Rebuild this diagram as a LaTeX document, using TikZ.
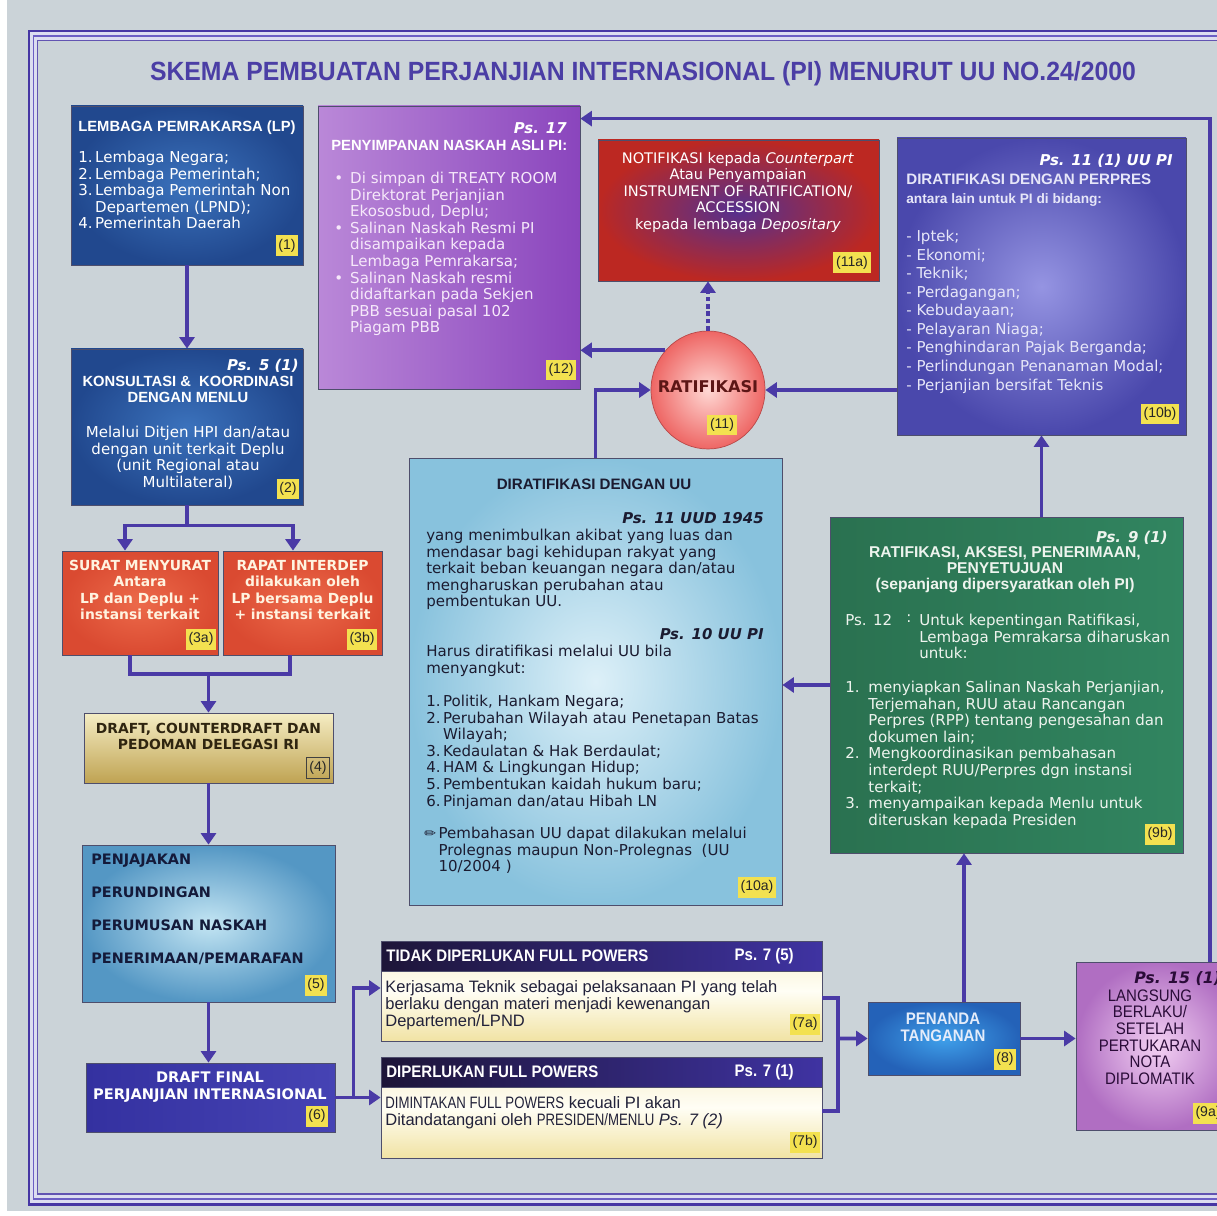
\documentclass[tikz,border=0pt]{standalone}
\usepackage{fontspec}
\setmainfont{DejaVu Sans}
\newfontfamily\hfont{Liberation Sans}
\newfontfamily\nfont[FakeStretch=0.9]{Liberation Sans}
\newfontfamily\ncfont[FakeStretch=0.8]{Liberation Sans}
\newfontfamily\tfont[FakeStretch=0.94]{Liberation Sans}
\usetikzlibrary{arrows.meta,fit,shapes.geometric,calc}

% paper, frame and connector colours
\definecolor{paper}{HTML}{CBD3D8}
\definecolor{frameA}{HTML}{4636A4}
\definecolor{frameB}{HTML}{6C5EC4}
\definecolor{frameGap}{HTML}{DCDDF0}
\definecolor{linkC}{HTML}{4A3AA6}
\definecolor{titleC}{HTML}{4B3EA5}
\definecolor{labY}{HTML}{F3E150}
\definecolor{boxEdge}{HTML}{4E4E6C}
% box fills
\definecolor{blueIn}{HTML}{3B72BC}
\definecolor{blueOut}{HTML}{21488E}
\definecolor{redIn}{HTML}{EC6A4A}
\definecolor{redOut}{HTML}{DA4A31}
\definecolor{goldT}{HTML}{F5EDC4}
\definecolor{goldB}{HTML}{BFA352}
\definecolor{skyFiveIn}{HTML}{C3E5F3}
\definecolor{skyFiveOut}{HTML}{5497C4}
\definecolor{indigoL}{HTML}{3431A0}
\definecolor{indigoR}{HTML}{4643B4}
\definecolor{hdrL}{HTML}{1D1538}
\definecolor{hdrR}{HTML}{3F33A2}
\definecolor{creamT}{HTML}{F6EDC8}
\definecolor{creamM}{HTML}{FFFEF5}
\definecolor{creamB}{HTML}{F1E3A4}
\definecolor{signIn}{HTML}{3FA0EA}
\definecolor{signOut}{HTML}{2462B8}
\definecolor{pinkIn}{HTML}{F3D0F3}
\definecolor{pinkOut}{HTML}{B06EC2}
\definecolor{greenL}{HTML}{2A7150}
\definecolor{greenR}{HTML}{318560}
\definecolor{skyTenIn}{HTML}{DDF0F8}
\definecolor{skyTenOut}{HTML}{88C2DD}
\definecolor{vioIn}{HTML}{9594E2}
\definecolor{vioOut}{HTML}{4A48AC}
\definecolor{circIn}{HTML}{FFD8D4}
\definecolor{circOut}{HTML}{EE6664}
\definecolor{circEdge}{HTML}{B84848}
\definecolor{notifIn}{HTML}{55308F}
\definecolor{notifOut}{HTML}{BC2822}
\definecolor{lavL}{HTML}{BA88D8}
\definecolor{purR}{HTML}{8A45BD}
% text colours
\definecolor{ltPurple}{HTML}{F6E8FA}
\definecolor{ltViolet}{HTML}{E6E6F8}
\definecolor{ltGreen}{HTML}{EEF4EE}
\definecolor{ltBlue}{HTML}{E4ECFA}
\definecolor{ltCream}{HTML}{FFF3E0}
\definecolor{dkNavy}{HTML}{1B1B30}
\definecolor{dkFive}{HTML}{141A3A}
\definecolor{dkBrown}{HTML}{2F2510}
\definecolor{dkPlum}{HTML}{2A0C38}
\definecolor{dkRed}{HTML}{5C1616}
\definecolor{dkInk}{HTML}{22223A}

\newcommand\txtBody{\fontsize{8.55}{9.4}\selectfont}
\newcommand\txtHead{\hfont\bfseries\fontsize{8.4}{9.1}\selectfont}
\newcommand\txtPs{\bfseries\itshape\fontsize{8.5}{9.6}\selectfont}
\newcommand\txtCaps{\bfseries\fontsize{7.9}{9.3}\selectfont}
\newcommand\txtPlain{\hfont\fontsize{9.4}{9.6}\selectfont}
\newcommand\txtNarrowB{\nfont\bfseries\fontsize{9.5}{9.6}\selectfont}
% capital runs inside the plain Arial-like lines are set narrower
\newcommand\upc[1]{{\ncfont #1}}

\begin{document}
\begin{tikzpicture}[x=0.02cm,y=-0.02cm,
  box/.style={inner sep=0pt, draw=boxEdge, line width=0.45pt},
  link/.style={draw=linkC, line width=2.1pt},
  arr/.style={link, -{Triangle[width=8.5pt,length=6.5pt]}},
  lab/.style={fill=labY, inner sep=1.5pt, minimum height=0.42cm, text=black!85,
              font=\hfont\fontsize{8}{8}\selectfont},
  tx/.style={inner sep=0pt, anchor=north west, align=left},
  txc/.style={inner sep=0pt, anchor=north, align=center}]

\useasboundingbox (0,0) rectangle (1217,1216);
\clip (0,0) rectangle (1217,1216);
\fill[white] (0,0) rectangle (1217,1216);
\fill[paper] (7,0) rectangle (1217,1211);

% triple border
\fill[frameGap, even odd rule] (29,31) rectangle (1260,1204) (37.5,40.5) rectangle (1260,1194);
\draw[frameA, line width=1.7pt] (29,31) rectangle (1260,1204);
\draw[frameB, line width=0.8pt] (33.5,36) rectangle (1260,1199);
\draw[frameA!85, line width=1pt] (37.5,40.5) rectangle (1260,1194);

\node[inner sep=0, text=titleC, font=\tfont\bfseries\fontsize{15}{18}\selectfont] (title) at (643,74)
  {SKEMA PEMBUATAN PERJANJIAN INTERNASIONAL (PI) MENURUT UU NO.24/2000};

% ---------- boxes ----------
\node[box, fit={(71,106) (303,265)}, inner color=blueIn, outer color=blueOut] (n1) {};
\node[box, fit={(71,349) (303,505)}, inner color=blueIn, outer color=blueOut] (n2) {};
\node[box, fit={(62,551) (218,655)}, inner color=redIn, outer color=redOut] (n3a) {};
\node[box, fit={(223,551) (382,655)}, inner color=redIn, outer color=redOut] (n3b) {};
\node[box, fit={(84,713) (333,783)}, top color=goldT, bottom color=goldB] (n4) {};
\node[box, fit={(82,845) (335,1002)}, inner color=skyFiveIn, outer color=skyFiveOut] (n5) {};
\node[box, fit={(86,1063) (335,1132)}, left color=indigoL, right color=indigoR] (n6) {};
\node[box, fit={(381,941) (822,1041)}, top color=creamT, bottom color=creamB, middle color=creamM] (n7a) {};
\node[box, fit={(381,941) (822,971)}, left color=hdrL, right color=hdrR] (h7a) {};
\node[box, fit={(381,1057) (822,1158)}, top color=creamT, bottom color=creamB, middle color=creamM] (n7b) {};
\node[box, fit={(381,1057) (822,1087)}, left color=hdrL, right color=hdrR] (h7b) {};
\node[box, fit={(868,1002) (1020,1075)}, inner color=signIn, outer color=signOut] (n8) {};
\node[box, fit={(1076,962) (1240,1130)}, inner color=pinkIn, outer color=pinkOut] (n9a) {};
\node[box, fit={(830,517) (1183,853)}, left color=greenL, right color=greenR] (n9b) {};
\node[box, fit={(409,458) (782,905)}, inner color=skyTenIn, outer color=skyTenOut] (n10a) {};
\node[box, fit={(897,138) (1186,435)}, inner color=vioIn, outer color=vioOut] (n10b) {};
\node[box, fit={(598,140) (879,281)}, inner color=notifIn, outer color=notifOut] (n11a) {};
\node[box, fit={(318,106) (580,389)}, left color=lavL, right color=purR] (n12) {};
\node[ellipse, minimum width=2.28cm, minimum height=2.36cm, inner sep=0, draw=circEdge,
      line width=0.4pt, inner color=circIn, outer color=circOut] (n11) at (708,390) {};

% ---------- connectors ----------
\draw[arr] (n1.south) -- (n2.north);
\draw[link] (n2.south) -- ++(0,20) coordinate (sp2);
\draw[arr] (sp2) -| ([xshift=-0.3cm]n3a.north);
\draw[arr] (sp2) -| ([xshift=-0.19cm]n3b.north);
\coordinate (m34) at (208.5,674);
\draw[link] ([xshift=-0.2cm]n3a.south) |- (m34) -| ([xshift=-0.25cm]n3b.south);
\draw[arr] (m34) -- (n4.north);
\draw[arr] (n4.south) -- (n5.north);
\draw[arr] (n5.south) -- (n5.south |- n6.north);
\coordinate (s6) at ($(n6.east)+(18,0)$);
\draw[link] (n6.east) -- (s6);
\draw[arr] (s6) -- (n6.east -| n7b.west);
\draw[arr] (s6) |- ([yshift=0.06cm]n7a.west);
\coordinate (j8) at (838,1038.5);
\draw[link] ([yshift=-0.14cm]n7a.east) -| (j8);
\draw[link] ([yshift=-0.07cm]n7b.east) -| (j8);
\draw[arr] (j8) -- (n8.west);
\draw[arr] (n8.east) -- (n8.east -| n9a.west);
\draw[arr] ([xshift=0.4cm]n8.north) -- ([xshift=0.4cm]n8.north |- n9b.south);
\draw[arr] (n10b.south |- n9b.north) -- (n10b.south);
\draw[arr] (n9b.west) -- (n9b.west -| n10a.east);
\draw[arr] (n10a.north) |- (n11.west);
\draw[arr] (n11.east -| n10b.west) -- (n11.east);
\draw[arr] (n11.137) -- (n11.137 -| n12.east);
\draw[arr, dash pattern=on 2.6pt off 1.6pt] (n11.north) -- (n11.north |- n11a.south);
\draw[arr] ([xshift=1.04cm]n9a.north) |- ([yshift=-0.26cm]n12.north east);

% ---------- texts ----------
% (1)
\node[tx, text=white, font=\txtHead] (t1h) at (78,120) {LEMBAGA PEMRAKARSA (LP)};
\node[tx, text=white, font=\txtBody] (t1b) at (78,151) {\begin{tabular}{@{}l@{\,}l@{}}
  1. & Lembaga Negara;\\ 2. & Lembaga Pemerintah;\\ 3. & Lembaga Pemerintah Non\\
     & Departemen (LPND);\\ 4. & Pemerintah Daerah\end{tabular}};
% (2)
\node[tx, anchor=north east, text=white, font=\txtPs] (t2p) at (299,359) {Ps. 5 (1)};
\node[txc, text=white, font=\txtHead] (t2h) at (188,376) {KONSULTASI \&\ \ KOORDINASI\\DENGAN MENLU};
\node[txc, text=white, font=\txtBody] (t2b) at (188,426) {Melalui Ditjen HPI dan/atau\\dengan unit terkait Deplu\\(unit Regional atau\\Multilateral)};
% (3a), (3b)
\node[txc, text=ltCream, font=\txtCaps] (t3a) at (140,560) {SURAT MENYURAT\\Antara\\LP dan Deplu +\\instansi terkait};
\node[txc, text=ltCream, font=\txtCaps] (t3b) at (302.5,560) {RAPAT INTERDEP\\dilakukan oleh\\LP bersama Deplu\\+ instansi terkait};
% (4)
\node[txc, text=dkBrown, font=\txtCaps] (t4) at (208.5,723) {DRAFT, COUNTERDRAFT DAN\\PEDOMAN DELEGASI RI};
% (5)
\node[tx, text=dkFive, font=\bfseries\fontsize{8.2}{18.7}\selectfont] (t5) at (91,854)
  {PENJAJAKAN\\PERUNDINGAN\\PERUMUSAN NASKAH\\PENERIMAAN/PEMARAFAN};
% (6)
\node[txc, text=white, font=\bfseries\fontsize{8.3}{9.6}\selectfont] (t6) at (210,1072) {DRAFT FINAL\\PERJANJIAN INTERNASIONAL};
% (7a), (7b)
\node[inner sep=0, anchor=west, text=white, font=\txtNarrowB] (t7ah) at (386,956) {TIDAK DIPERLUKAN FULL POWERS};
\node[inner sep=0, anchor=east, text=white, font=\txtNarrowB] (t7ap) at (794,956) {Ps. 7 (5)};
\node[tx, text=dkInk, font=\txtPlain] (t7ab) at (385,980) {Kerjasama Teknik sebagai pelaksanaan PI yang telah\\berlaku dengan materi menjadi kewenangan\\Departemen/LPND};
\node[inner sep=0, anchor=west, text=white, font=\txtNarrowB] (t7bh) at (386,1072) {DIPERLUKAN FULL POWERS};
\node[inner sep=0, anchor=east, text=white, font=\txtNarrowB] (t7bp) at (794,1072) {Ps. 7 (1)};
\node[tx, text=dkInk, font=\txtPlain] (t7bb) at (385,1096) {\upc{DIMINTAKAN FULL POWERS} kecuali PI akan\\Ditandatangani oleh \upc{PRESIDEN/MENLU} \textit{Ps. 7 (2)}};
% (8)
\node[txc, text=ltBlue, font=\txtNarrowB] (t8) at (943,1013) {PENANDA\\TANGANAN};
% (9a)
\node[tx, text=dkPlum, font=\bfseries\itshape\fontsize{9}{10}\selectfont] (t9ap) at (1134,971) {Ps. 15 (1)};
\node[txc, text=dkPlum, font=\nfont\fontsize{9.5}{9.5}\selectfont] (t9a) at (1150,989)
  {LANGSUNG\\BERLAKU/\\SETELAH\\PERTUKARAN\\NOTA\\DIPLOMATIK};
% (9b)
\node[tx, anchor=north east, text=ltGreen, font=\txtPs] (t9bp) at (1168,531) {Ps. 9 (1)};
\node[txc, text=ltGreen, font=\hfont\bfseries\fontsize{8.9}{9.3}\selectfont] (t9bh) at (1005,546)
  {RATIFIKASI, AKSESI, PENERIMAAN,\\PENYETUJUAN\\(sepanjang dipersyaratkan oleh PI)};
\node[tx, text=ltGreen, font=\txtBody] (t9bs) at (845,614) {Ps. 12};
\node[tx, text=ltGreen, font=\txtBody] (t9bc) at (906,614) {:};
\node[tx, text=ltGreen, font=\txtBody] (t9bt) at (919,614) {Untuk kepentingan Ratifikasi,\\Lembaga Pemrakarsa diharuskan\\untuk:};
\node[tx, text=ltGreen, font=\txtBody] (t9bl) at (845,681) {\begin{tabular}{@{}l@{\hspace{5pt}}l@{}}
  1. & menyiapkan Salinan Naskah Perjanjian,\\ & Terjemahan, RUU atau Rancangan\\
     & Perpres (RPP) tentang pengesahan dan\\ & dokumen lain;\\
  2. & Mengkoordinasikan pembahasan\\ & interdept RUU/Perpres dgn instansi\\ & terkait;\\
  3. & menyampaikan kepada Menlu untuk\\ & diteruskan kepada Presiden\end{tabular}};
% (10a)
\node[txc, text=dkNavy, font=\hfont\bfseries\fontsize{8.6}{9.4}\selectfont] (t10ah) at (594,479) {DIRATIFIKASI DENGAN UU};
\node[tx, anchor=north east, text=dkNavy, font=\txtPs] (t10ap) at (764,512) {Ps. 11 UUD 1945};
\node[tx, text=dkNavy, font=\txtBody] (t10ab) at (426,529) {yang menimbulkan akibat yang luas dan\\mendasar bagi kehidupan rakyat yang\\terkait beban keuangan negara dan/atau\\mengharuskan perubahan atau\\pembentukan UU.};
\node[tx, anchor=north east, text=dkNavy, font=\txtPs] (t10aq) at (764,628) {Ps. 10 UU PI};
\node[tx, text=dkNavy, font=\txtBody] (t10ac) at (426,645) {Harus diratifikasi melalui UU bila\\menyangkut:};
\node[tx, text=dkNavy, font=\txtBody] (t10al) at (426,695) {\begin{tabular}{@{}l@{\,}l@{}}
  1. & Politik, Hankam Negara;\\ 2. & Perubahan Wilayah atau Penetapan Batas\\ & Wilayah;\\
  3. & Kedaulatan \& Hak Berdaulat;\\ 4. & HAM \& Lingkungan Hidup;\\
  5. & Pembentukan kaidah hukum baru;\\ 6. & Pinjaman dan/atau Hibah LN\end{tabular}};
\node[tx, text=dkNavy, font=\txtBody] (t10an) at (424,827) {\begin{tabular}{@{}l@{\,}l@{}}
  {\fontsize{8}{8}\selectfont ✏} & Pembahasan UU dapat dilakukan melalui\\
  & Prolegnas maupun Non-Prolegnas\ \ (UU\\ & 10/2004 )\end{tabular}};
% (10b)
\node[tx, anchor=north east, text=white, font=\txtPs] (t10bp) at (1173,154) {Ps. 11 (1) UU PI};
\node[tx, text=ltViolet, font=\hfont\bfseries\fontsize{8.6}{9.4}\selectfont] (t10bh) at (906,174) {DIRATIFIKASI DENGAN PERPRES};
\node[tx, text=ltViolet, font=\hfont\bfseries\fontsize{7.8}{9}\selectfont] (t10bs) at (906,193) {antara lain untuk PI di bidang:};
\node[tx, text=ltViolet, font=\fontsize{8.55}{10.55}\selectfont] (t10bl) at (906,230)
  {- Iptek;\\- Ekonomi;\\- Teknik;\\- Perdagangan;\\- Kebudayaan;\\- Pelayaran Niaga;\\- Penghindaran Pajak Berganda;\\- Perlindungan Penanaman Modal;\\- Perjanjian bersifat Teknis};
% (11), (11a), (12)
\node[inner sep=0, text=dkRed, font=\bfseries\fontsize{9.2}{10}\selectfont] (t11) at (708,387) {RATIFIKASI};
\node[txc, text=white, font=\fontsize{8.3}{9.4}\selectfont] (t11a) at (738,152) {NOTIFIKASI kepada \textit{Counterpart}\\Atau Penyampaian\\INSTRUMENT OF RATIFICATION/\\ACCESSION\\kepada lembaga \textit{Depositary}};
\node[tx, anchor=north east, text=white, font=\txtPs] (t12p) at (567,122) {Ps. 17};
\node[tx, text=white, font=\txtHead] (t12h) at (331,140) {PENYIMPANAN NASKAH ASLI PI:};
\node[tx, text=ltPurple, font=\txtBody] (t12b) at (334,172) {\begin{tabular}{@{}l@{\hspace{4pt}}l@{}}
  • & Di simpan di TREATY ROOM\\ & Direktorat Perjanjian\\ & Ekososbud, Deplu;\\
  • & Salinan Naskah Resmi PI\\ & disampaikan kepada\\ & Lembaga Pemrakarsa;\\
  • & Salinan Naskah resmi\\ & didaftarkan pada Sekjen\\ & PBB sesuai pasal 102\\ & Piagam PBB\end{tabular}};

% ---------- step numbers ----------
\node[lab] (l1) at (287,246) {(1)};
\node[lab] (l2) at (288,489) {(2)};
\node[lab] (l3a) at (201,639) {(3a)};
\node[lab] (l3b) at (362,639) {(3b)};
\node[lab, fill=none, draw=black!75, line width=0.4pt] (l4) at (318,768) {(4)};
\node[lab] (l5) at (316,985) {(5)};
\node[lab] (l6) at (317,1116) {(6)};
\node[lab] (l7a) at (805,1024) {(7a)};
\node[lab] (l7b) at (805,1142) {(7b)};
\node[lab] (l8) at (1005,1059) {(8)};
\node[lab] (l9a) at (1208,1113) {(9a)};
\node[lab] (l9b) at (1160,834) {(9b)};
\node[lab] (l10a) at (757,887) {(10a)};
\node[lab] (l10b) at (1160,414) {(10b)};
\node[lab] (l11) at (722,425) {(11)};
\node[lab] (l11a) at (852,263) {(11a)};
\node[lab] (l12) at (561,370) {(12)};
\end{tikzpicture}
\end{document}
